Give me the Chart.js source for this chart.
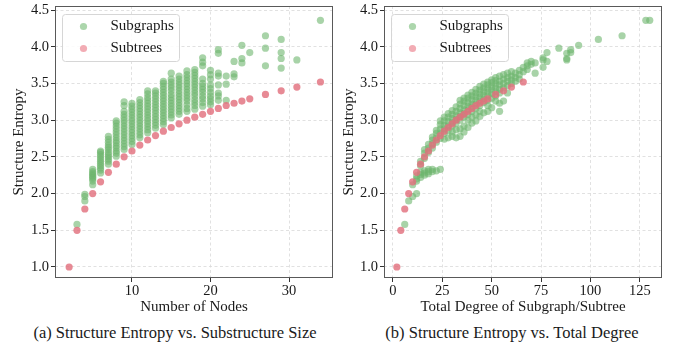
<!DOCTYPE html>
<html>
<head>
<meta charset="utf-8">
<script src="https://cdn.jsdelivr.net/npm/chart.js@4.4.1/dist/chart.umd.min.js"></script>
<style>
  body { margin: 0; background: #fff; width: 678px; height: 347px; position: relative; overflow: hidden;
         font-family: "Liberation Serif", "DejaVu Serif", serif; }
  canvas { position: absolute; top: 0; }
  #chartA { left: 0; }
  #chartB { left: 339px; }
  .caption { position: absolute; top: 323px; font-size: 16.5px; line-height: 20px; color: #1a1a1a;
             white-space: nowrap; transform: translateX(-50%); }
</style>
</head>
<body>
<canvas id="chartA" width="339" height="318"></canvas>
<canvas id="chartB" width="339" height="318"></canvas>
<div class="caption" style="left:175px">(a) Structure Entropy vs. Substructure Size</div>
<div class="caption" style="left:512px">(b) Structure Entropy vs. Total Degree</div>
<script>
// tick labels
var entropyTicks = [1.0, 1.5, 2.0, 2.5, 3.0, 3.5, 4.0, 4.5];
var nodeTicks = [10, 20, 30];
var degreeTicks = [0, 25, 50, 75, 100, 125];

// subtrees: one entropy per size, total degree = 2 * edges
var subtreeNodes   = [2, 3, 4, 5, 6, 7, 8, 9, 10, 11, 12, 13, 14, 15, 16, 17, 18, 19, 20, 21, 22, 23, 24, 25, 27, 29, 31, 34];
var subtreeDegree  = [2, 4, 6, 8, 10, 12, 14, 16, 18, 20, 22, 24, 26, 28, 30, 32, 34, 36, 38, 40, 42, 44, 46, 48, 52, 56, 60, 66];
var subtreeEntropy = [1.00, 1.50, 1.79, 2.00, 2.16, 2.29, 2.40, 2.50, 2.58, 2.66, 2.73, 2.79, 2.85, 2.90, 2.95, 3.00,
                      3.04, 3.08, 3.12, 3.16, 3.20, 3.23, 3.26, 3.29, 3.35, 3.40, 3.45, 3.52];

// subgraphs, panel (a): entropies grouped by node count
var subgraphSizes = [3, 4, 5, 6, 7, 8, 9, 10, 11, 12, 13, 14, 15, 16, 17, 18, 19, 20, 21, 22, 23, 24, 25, 27, 29, 31, 34];
var subgraphEntropyBySize = [
  [1.58],
  [1.90, 1.96, 1.99],
  [2.12, 2.17, 2.20, 2.22, 2.24, 2.26, 2.28, 2.30, 2.33],
  [2.28, 2.32, 2.35, 2.38, 2.41, 2.44, 2.47, 2.50, 2.53, 2.56, 2.58],
  [2.40, 2.44, 2.47, 2.50, 2.53, 2.56, 2.60, 2.63, 2.66, 2.70, 2.74, 2.78],
  [2.51, 2.55, 2.58, 2.62, 2.65, 2.69, 2.72, 2.76, 2.80, 2.84, 2.88, 2.92, 2.96, 2.99],
  [2.60, 2.64, 2.68, 2.72, 2.76, 2.80, 2.84, 2.88, 2.92, 2.96, 3.00, 3.04, 3.08, 3.12, 3.20, 3.25],
  [2.67, 2.71, 2.75, 2.79, 2.83, 2.87, 2.91, 2.95, 2.99, 3.03, 3.07, 3.11, 3.15, 3.19, 3.23],
  [2.76, 2.80, 2.84, 2.88, 2.92, 2.96, 3.00, 3.04, 3.08, 3.12, 3.16, 3.20, 3.24, 3.28],
  [2.83, 2.87, 2.91, 2.95, 2.99, 3.03, 3.07, 3.11, 3.15, 3.19, 3.23, 3.27, 3.31, 3.36, 3.40],
  [2.89, 2.93, 2.97, 3.01, 3.05, 3.09, 3.13, 3.17, 3.21, 3.25, 3.29, 3.33, 3.37, 3.40],
  [2.94, 2.98, 3.02, 3.06, 3.10, 3.14, 3.18, 3.22, 3.26, 3.30, 3.34, 3.38, 3.42, 3.46, 3.50, 3.53],
  [3.03, 3.07, 3.11, 3.15, 3.19, 3.23, 3.27, 3.31, 3.35, 3.40, 3.44, 3.48, 3.52, 3.56, 3.64],
  [3.08, 3.12, 3.16, 3.20, 3.24, 3.28, 3.32, 3.36, 3.40, 3.44, 3.48, 3.52, 3.56, 3.60],
  [3.12, 3.16, 3.21, 3.26, 3.30, 3.34, 3.38, 3.42, 3.46, 3.50, 3.54, 3.58, 3.62, 3.67],
  [3.15, 3.20, 3.24, 3.28, 3.33, 3.37, 3.41, 3.45, 3.49, 3.53, 3.57, 3.61, 3.65, 3.69],
  [3.19, 3.24, 3.29, 3.33, 3.38, 3.42, 3.46, 3.50, 3.56, 3.74, 3.79, 3.85],
  [3.21, 3.25, 3.29, 3.33, 3.38, 3.43, 3.48, 3.56, 3.62, 3.68],
  [3.27, 3.33, 3.37, 3.48, 3.60, 3.64, 3.91, 3.96],
  [3.27, 3.49, 3.60],
  [3.59, 3.63, 3.80],
  [3.78, 3.84, 4.02],
  [3.92],
  [3.74, 3.98, 4.15],
  [3.71, 3.84, 3.92, 4.10],
  [3.82],
  [4.36]
];

// subgraphs, panel (b): entropies grouped by total degree
var subgraphDegrees = [6, 8, 10, 12, 14, 16, 18, 20, 22, 24, 26, 28, 30, 32, 34, 36, 38, 40, 42, 44, 46, 48, 50, 52,
                       54, 56, 58, 60, 62, 64, 66, 68, 70, 72, 76, 78, 84, 88, 90, 94, 104, 116, 128, 130];
var subgraphEntropyByDegree = [
  [1.58],
  [1.90],
  [1.96, 2.12],
  [2.00, 2.17, 2.20, 2.24],
  [2.22, 2.26, 2.29, 2.38, 2.44],
  [2.25, 2.28, 2.31, 2.48, 2.55, 2.60],
  [2.27, 2.30, 2.33, 2.56, 2.62, 2.67],
  [2.30, 2.33, 2.62, 2.68, 2.73, 2.77],
  [2.31, 2.70, 2.76, 2.82, 2.86],
  [2.33, 2.75, 2.82, 2.88, 2.94, 2.99],
  [2.74, 2.82, 2.88, 2.93, 2.99, 3.04],
  [2.76, 2.86, 2.92, 2.98, 3.04, 3.09],
  [2.78, 2.84, 2.92, 2.97, 3.02, 3.08, 3.13],
  [2.76, 2.87, 2.96, 3.01, 3.06, 3.12, 3.18],
  [2.78, 2.88, 3.00, 3.05, 3.10, 3.16, 3.22, 3.27],
  [2.84, 2.92, 3.04, 3.09, 3.14, 3.20, 3.26, 3.30],
  [2.90, 3.00, 3.08, 3.14, 3.19, 3.24, 3.30, 3.34],
  [2.96, 3.04, 3.12, 3.18, 3.22, 3.28, 3.33, 3.38],
  [2.99, 3.07, 3.16, 3.22, 3.27, 3.32, 3.37, 3.42],
  [3.05, 3.12, 3.20, 3.26, 3.31, 3.36, 3.41, 3.46],
  [3.10, 3.24, 3.29, 3.34, 3.39, 3.44, 3.49],
  [3.12, 3.20, 3.27, 3.33, 3.38, 3.43, 3.48, 3.52],
  [3.17, 3.30, 3.36, 3.41, 3.46, 3.51, 3.55],
  [3.26, 3.33, 3.39, 3.44, 3.49, 3.54, 3.58],
  [3.12, 3.23, 3.37, 3.42, 3.48, 3.53, 3.60],
  [3.26, 3.44, 3.50, 3.56, 3.62],
  [3.37, 3.47, 3.53, 3.58, 3.64],
  [3.50, 3.55, 3.60, 3.66],
  [3.53, 3.58, 3.64],
  [3.56, 3.62, 3.68],
  [3.66, 3.72],
  [3.69, 3.74, 3.78],
  [3.76, 3.80],
  [3.64, 3.78],
  [3.72, 3.82, 3.85],
  [3.80, 3.92],
  [3.98],
  [3.82, 3.84, 3.91],
  [3.92, 3.96],
  [4.02],
  [4.10],
  [4.15],
  [4.36],
  [4.36]
];

var GREEN = 'rgba(110, 182, 110, 0.6)';
var RED = 'rgba(226, 112, 126, 0.82)';
var GREEN_KEY = 'rgb(172, 214, 172)';
var RED_KEY = 'rgb(242, 172, 180)';
var FONT = '"Liberation Serif", "Times New Roman", serif';
var INK = '#1a1a1a';

function groupedPoints(xs, groups) {
  var pts = [];
  xs.forEach(function (x, i) {
    groups[i].forEach(function (y) { pts.push({ x: x, y: y }); });
  });
  return pts;
}
function pairedPoints(xs, ys) {
  return xs.map(function (x, i) { return { x: x, y: ys[i] }; });
}

// matplotlib-like frame + legend inside the axes
var boxPlugin = {
  id: 'box',
  afterDatasetsDraw: function (chart) {
    var ctx = chart.ctx, a = chart.chartArea;
    ctx.save();
    ctx.strokeStyle = '#595959';
    ctx.lineWidth = 1;
    ctx.strokeRect(a.left + 0.5, a.top + 0.5, a.right - a.left - 1, a.bottom - a.top - 1);

    var bx = a.left + 7.5, by = a.top + 8.5, bw = 117, bh = 47;
    ctx.beginPath();
    if (ctx.roundRect) ctx.roundRect(bx, by, bw, bh, 3); else ctx.rect(bx, by, bw, bh);
    ctx.fillStyle = 'rgba(255,255,255,0.85)';
    ctx.fill();
    ctx.strokeStyle = '#d6d6d6';
    ctx.stroke();

    var keys = [GREEN_KEY, RED_KEY];
    ctx.font = '15px ' + FONT;
    ctx.textBaseline = 'middle';
    chart.data.datasets.forEach(function (ds, i) {
      var cy = by + 12 + i * 22;
      ctx.beginPath();
      ctx.arc(bx + 21, cy, 3.6, 0, Math.PI * 2);
      ctx.fillStyle = keys[i];
      ctx.fill();
      ctx.fillStyle = INK;
      ctx.fillText(ds.label, bx + 48, cy);
    });
    ctx.restore();
  }
};

function makePanel(id, cfg) {
  var gridOpts = { color: '#d9d9d9', lineWidth: 0.8, tickColor: '#333', tickLength: 4, tickWidth: 1, tickBorderDash: [] };
  return new Chart(document.getElementById(id), {
    type: 'scatter',
    data: {
      datasets: [
        { label: 'Subgraphs', data: cfg.green, backgroundColor: GREEN, pointRadius: 3.6, borderWidth: 0, order: 1 },
        { label: 'Subtrees', data: cfg.red, backgroundColor: RED, pointRadius: 3.6, borderWidth: 0, order: 0 }
      ]
    },
    options: {
      responsive: false,
      animation: false,
      events: [],
      layout: { padding: { left: 0, right: cfg.padRight, top: 6, bottom: 0 } },
      plugins: { legend: { display: false }, tooltip: { enabled: false } },
      scales: {
        x: {
          type: 'linear', min: cfg.xMin, max: cfg.xMax,
          afterBuildTicks: function (s) { s.ticks = cfg.xTicks.map(function (v) { return { value: v }; }); },
          afterFit: function (s) { s.height = 40; s.paddingLeft = 0; s.paddingRight = 0; },
          ticks: { font: { family: FONT, size: 14.5 }, color: INK, padding: 0, maxRotation: 0 },
          grid: gridOpts,
          border: { display: false, dash: [3, 2.5] },
          title: { display: true, text: cfg.xTitle, font: { family: FONT, size: 15 }, color: INK, padding: { top: 0, bottom: 2 } }
        },
        y: {
          type: 'linear', min: 0.85, max: 4.555,
          afterBuildTicks: function (s) { s.ticks = entropyTicks.map(function (v) { return { value: v }; }); },
          afterFit: function (s) { s.width = cfg.yWidth; s.paddingTop = 0; s.paddingBottom = 0; },
          ticks: { font: { family: FONT, size: 14.5 }, color: INK, padding: 2,
                   callback: function (v) { return v.toFixed(1); } },
          grid: gridOpts,
          border: { display: false, dash: [3, 2.5] },
          title: { display: true, text: 'Structure Entropy', font: { family: FONT, size: 15 }, color: INK, padding: { top: cfg.yTitlePad, bottom: 0 } }
        }
      }
    },
    plugins: [boxPlugin]
  });
}

makePanel('chartA', {
  green: groupedPoints(subgraphSizes, subgraphEntropyBySize),
  red: pairedPoints(subtreeNodes, subtreeEntropy),
  xMin: 0.2, xMax: 35.6, xTicks: nodeTicks, xTitle: 'Number of Nodes',
  yWidth: 55, yTitlePad: 10, padRight: 6
});

makePanel('chartB', {
  green: groupedPoints(subgraphDegrees, subgraphEntropyByDegree),
  red: pairedPoints(subtreeDegree, subtreeEntropy),
  xMin: -4.5, xMax: 136.2, xTicks: degreeTicks, xTitle: 'Total Degree of Subgraph/Subtree',
  yWidth: 45, yTitlePad: 1, padRight: 16
});
</script>
</body>
</html>
